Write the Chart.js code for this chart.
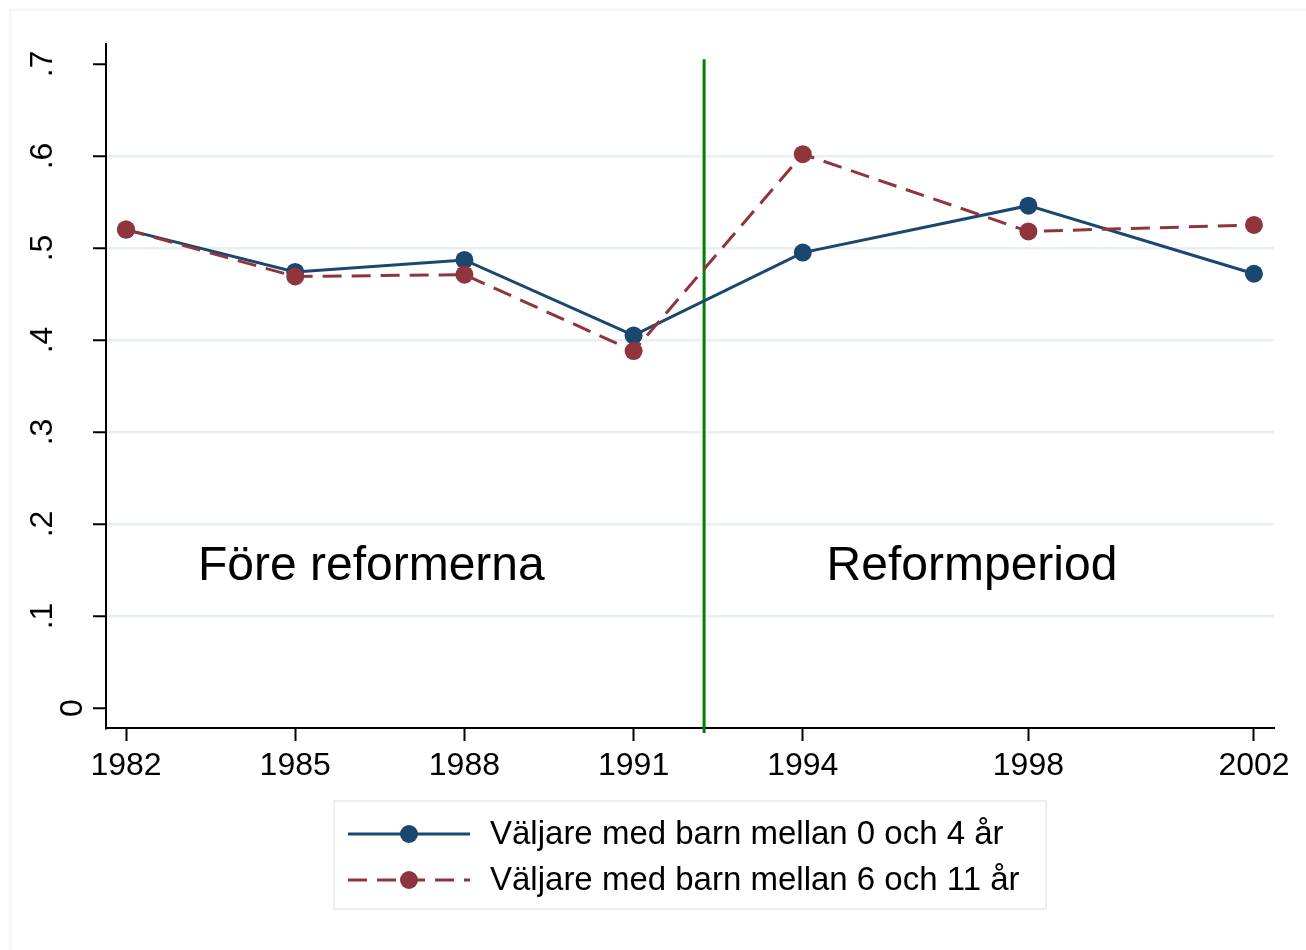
<!DOCTYPE html>
<html><head><meta charset="utf-8">
<script src="https://cdn.jsdelivr.net/npm/chart.js@4/dist/chart.umd.min.js"></script>
<style>html,body{margin:0;padding:0;background:#fff}#wrap{position:relative;width:1306px;height:950px}</style>
</head><body><div id="wrap"><canvas id="c" width="1306" height="950"></canvas></div>
<script>
// ---- data ----
const years = [1982, 1985, 1988, 1991, 1994, 1998, 2002];
const seriesKids0to4 = [0.520, 0.474, 0.487, 0.405, 0.495, 0.546, 0.472];
const seriesKids6to11 = [0.520, 0.469, 0.471, 0.388, 0.602, 0.518, 0.525];
const seriesNames = ['Väljare med barn mellan 0 och 4 år', 'Väljare med barn mellan 6 och 11 år'];
const yTicks = [0, 0.1, 0.2, 0.3, 0.4, 0.5, 0.6, 0.7];
const yTickLabels = ['0', '.1', '.2', '.3', '.4', '.5', '.6', '.7'];
const reformYear = 1992.25;
const reformLineRange = [-0.027, 0.705];
const periodLabels = ['Före reformerna', 'Reformperiod'];
const periodLabelX = [1986.35, 1997.0];
const periodLabelY = 0.153;

// ---- styles ----
const FONT = '"Liberation Sans", Arial, Helvetica, sans-serif';
const BLUE = '#1a476f', RED = '#90353b', GREEN = '#008000', GRID = '#e8eff2';

const toPts = arr => years.map((y, i) => ({x: y, y: arr[i]}));

const decor = {
  id: 'decor',
  beforeDraw(chart) {
    const ctx = chart.ctx;
    ctx.save();
    ctx.fillStyle = '#fff';
    ctx.fillRect(0, 0, chart.width, chart.height);
    ctx.strokeStyle = '#eef2f4';
    ctx.lineWidth = 1.5;
    ctx.strokeRect(10.5, 9.5, chart.width + 10, chart.height + 10);
    ctx.restore();
  },
  afterDraw(chart) {
    const ctx = chart.ctx, xs = chart.scales.x, ys = chart.scales.y, ca = chart.chartArea;
    ctx.save();
    // y tick labels (rotated)
    ctx.font = '32px ' + FONT;
    ctx.fillStyle = '#000';
    ctx.textAlign = 'center';
    ctx.textBaseline = 'alphabetic';
    yTicks.forEach((v, i) => {
      const lbl = yTickLabels[i];
      const py = ys.getPixelForValue(v);
      const bx = ca.left - (lbl.charAt(0) === '.' ? 54 : 24);
      ctx.save();
      ctx.translate(bx, py);
      ctx.rotate(-Math.PI / 2);
      ctx.fillText(lbl, 0, 0);
      ctx.restore();
    });
    // period labels
    ctx.font = '48px ' + FONT;
    ctx.textBaseline = 'middle';
    periodLabels.forEach((t, i) => {
      ctx.fillText(t, xs.getPixelForValue(periodLabelX[i]), ys.getPixelForValue(periodLabelY));
    });
    // legend
    const cx = (ca.left + ca.right) / 2;
    const bw = 712, bh = 108;
    const bx = cx - bw / 2, by = ca.bottom + 73;
    ctx.strokeStyle = '#e2eaee';
    ctx.lineWidth = 1.5;
    ctx.strokeRect(bx, by, bw, bh);
    const rows = [
      {c: BLUE, dash: [], name: seriesNames[0]},
      {c: RED, dash: [19, 10], name: seriesNames[1]}
    ];
    rows.forEach((r, i) => {
      const ry = by + 33 + i * 46;
      ctx.strokeStyle = r.c;
      ctx.lineWidth = 3;
      ctx.setLineDash(r.dash);
      ctx.beginPath();
      ctx.moveTo(bx + 14, ry);
      ctx.lineTo(bx + 136, ry);
      ctx.stroke();
      ctx.setLineDash([]);
      ctx.fillStyle = r.c;
      ctx.beginPath();
      ctx.arc(bx + 75, ry, 9, 0, Math.PI * 2);
      ctx.fill();
      ctx.fillStyle = '#000';
      ctx.font = '33px ' + FONT;
      ctx.textAlign = 'left';
      ctx.textBaseline = 'middle';
      ctx.fillText(r.name, bx + 156, ry + 1);
    });
    ctx.restore();
  }
};

new Chart(document.getElementById('c'), {
  type: 'line',
  data: {
    datasets: [
      {
        label: seriesNames[0], data: toPts(seriesKids0to4),
        borderColor: BLUE, backgroundColor: BLUE, borderWidth: 3,
        pointRadius: 9, pointBorderWidth: 0, pointBackgroundColor: BLUE, order: 1
      },
      {
        label: seriesNames[1], data: toPts(seriesKids6to11),
        borderColor: RED, backgroundColor: RED, borderWidth: 3, borderDash: [19, 10],
        pointRadius: 9, pointBorderWidth: 0, pointBackgroundColor: RED, order: 0
      },
      {
        label: 'reform', data: [{x: reformYear, y: reformLineRange[0]}, {x: reformYear, y: reformLineRange[1]}],
        borderColor: GREEN, borderWidth: 3, pointRadius: 0, order: 5, clip: false
      }
    ]
  },
  options: {
    responsive: false,
    animation: false,
    events: [],
    layout: {padding: {left: 0, top: 44, right: 32, bottom: 0}},
    plugins: {legend: {display: false}, tooltip: {enabled: false}},
    scales: {
      x: {
        type: 'linear', min: 1981.645, max: 2002.355,
        afterBuildTicks: s => { s.ticks = years.map(v => ({value: v})); },
        afterFit: s => { s.height = 222; },
        grid: {drawOnChartArea: false, tickLength: 13, tickWidth: 2, tickColor: '#000'},
        border: {display: true, color: '#000', width: 2},
        ticks: {color: '#000', font: {family: FONT, size: 32}, padding: 6, maxRotation: 0, autoSkip: false,
          callback: v => String(v)}
      },
      y: {
        type: 'linear', min: -0.0217, max: 0.7217,
        afterBuildTicks: s => { s.ticks = yTicks.map(v => ({value: v})); },
        afterFit: s => { s.width = 106; },
        grid: {
          color: c => (c.tick && c.tick.value > 0.05 && c.tick.value < 0.65) ? GRID : 'rgba(0,0,0,0)',
          lineWidth: 2.5, tickLength: 13, tickWidth: 2, tickColor: '#000'
        },
        border: {display: true, color: '#000', width: 2},
        ticks: {display: false}
      }
    }
  },
  plugins: [decor]
});
</script>
</body></html>
